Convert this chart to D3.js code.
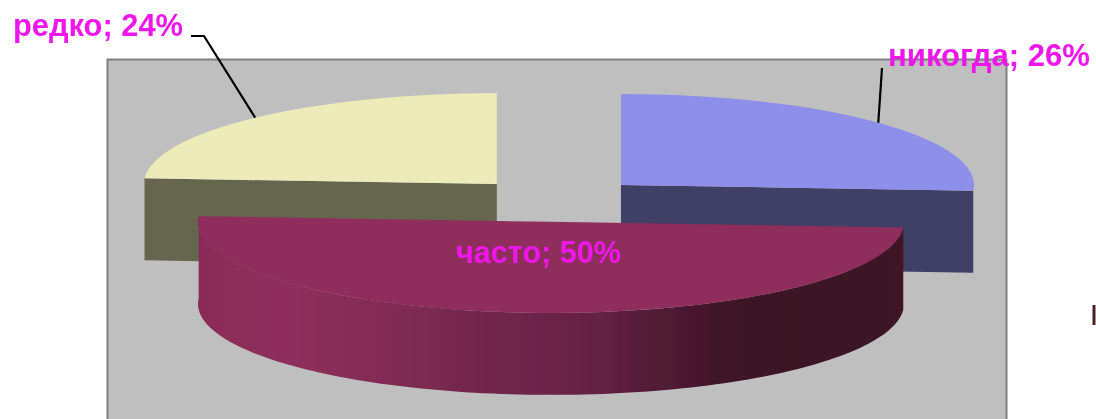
<!DOCTYPE html>
<html>
<head>
<meta charset="utf-8">
<script src="https://cdn.jsdelivr.net/npm/d3@7"></script>
<style>
    html, body { margin: 0; padding: 0; background: #fff; overflow: hidden; }
    text { font-family: "Liberation Sans", Arial, sans-serif; font-weight: bold; fill: #ee18ea; }
</style>
</head>
<body>
<div id="chart"></div>
<script>
const categories = ["никогда", "часто", "редко"];
const values = [26, 50, 24];
const topColors = ["#8d8fea", "#8f2d5b", "#ecebb9"];
const sideColors = ["#3f3f66", "#8f2d5b", "#666650"];

const width = 1096, height = 419;
const rx = 353, ry = 91, depth = 82;
const center = { x: 559, y: 200 };
const explode = 85;
// slices are not pulled out quite evenly in the original
const nudgeX = [0, -2.7, -4];
const labelPos = [
    { x: 888, y: 66, w: 202 },
    { x: 456, y: 263, w: 165 },
    { x: 13, y: 36, w: 170 }
];

const svg = d3.select("#chart").append("svg")
    .attr("width", width)
    .attr("height", height);

const defs = svg.append("defs");

defs.append("filter").attr("id", "soft")
    .append("feGaussianBlur").attr("stdDeviation", 0.5);

const wallGrad = defs.append("linearGradient").attr("id", "wall");
[[0, "#8a2c58"], [0.12, "#8f2e5c"], [0.28, "#802c53"], [0.43, "#6f2549"], [0.52, "#6a2447"], [0.63, "#571d39"], [0.74, "#411529"], [0.83, "#3a1324"], [1, "#3f1327"]]
    .forEach(d => wallGrad.append("stop").attr("offset", d[0]).attr("stop-color", d[1]));

const slices = d3.pie().sort(null).value(d => d)(values);
const kY = ry / rx;

const plot = svg.append("g").attr("filter", "url(#soft)");

plot.append("rect")
    .attr("x", 107.5)
    .attr("y", 59.5)
    .attr("width", 899)
    .attr("height", 400)
    .attr("fill", "#bfbfbf")
    .attr("stroke", "#808080")
    .attr("stroke-width", 2);

const arcTop = d3.arc().innerRadius(0).outerRadius(rx);

function sliceCenter(s, i) {
    const mid = (s.startAngle + s.endAngle) / 2;
    const p = d3.pointRadial(mid, explode);
    return { x: center.x + p[0] + nudgeX[i], y: center.y + p[1] * kY };
}

function rim(angle, r) {
    const p = d3.pointRadial(angle, r);
    return { x: p[0], y: p[1] * kY };
}

const wall = d3.area().x(d => d.x).y0(d => d.y).y1(d => d.y + depth);

// slices drawn back to front, bottom one last
[0, 2, 1].forEach(i => {
    const s = slices[i];
    const c = sliceCenter(s, i);
    const g = plot.append("g").attr("transform", `translate(${c.x},${c.y})`);

    if (i === 1) {
        // outer wall, only the half that faces us
        const a0 = s.startAngle, a1 = s.endAngle;
        const pts = d3.range(0, 121).map(t => rim(a0 + (a1 - a0) * t / 120, rx)).reverse();
        g.append("path").attr("d", wall(pts)).attr("fill", "url(#wall)");
    } else {
        // cut face along the radius nearest to us
        const a = i === 0 ? s.endAngle : s.startAngle;
        const pts = [rim(a, 0), rim(a, rx)];
        if (i === 2) pts.reverse();
        g.append("path").attr("d", wall(pts)).attr("fill", sideColors[i]);
    }

    g.append("path")
        .attr("d", arcTop(s))
        .attr("transform", `scale(1,${kY})`)
        .attr("fill", topColors[i]);
});

// leader lines
const leader = d3.line();
const redkoC = sliceCenter(slices[2], 2);
const nikC = sliceCenter(slices[0], 0);
const redkoAt = rim((slices[2].startAngle + slices[2].endAngle) / 2, rx);
const nikAt = rim((slices[0].startAngle + slices[0].endAngle) / 2, rx);

plot.append("path")
    .attr("d", leader([[191, 36], [204, 36], [redkoC.x + redkoAt.x, redkoC.y + redkoAt.y]]))
    .attr("fill", "none").attr("stroke", "#000").attr("stroke-width", 2.2);
plot.append("path")
    .attr("d", leader([[882, 68], [nikC.x + nikAt.x, nikC.y + nikAt.y]]))
    .attr("fill", "none").attr("stroke", "#000").attr("stroke-width", 2.2);

// clipped bit of something at the right edge of the original
plot.append("path")
    .attr("d", leader([[1094, 305], [1094, 325]]))
    .attr("fill", "none").attr("stroke", "#4a2028").attr("stroke-width", 3);

svg.append("g").attr("filter", "url(#soft)")
    .selectAll("text")
    .data(categories)
    .join("text")
    .attr("x", (d, i) => labelPos[i].x)
    .attr("y", (d, i) => labelPos[i].y)
    .attr("textLength", (d, i) => labelPos[i].w)
    .attr("lengthAdjust", "spacingAndGlyphs")
    .attr("font-size", 31)
    .text((d, i) => `${d}; ${values[i]}%`);
</script>
</body>
</html>
